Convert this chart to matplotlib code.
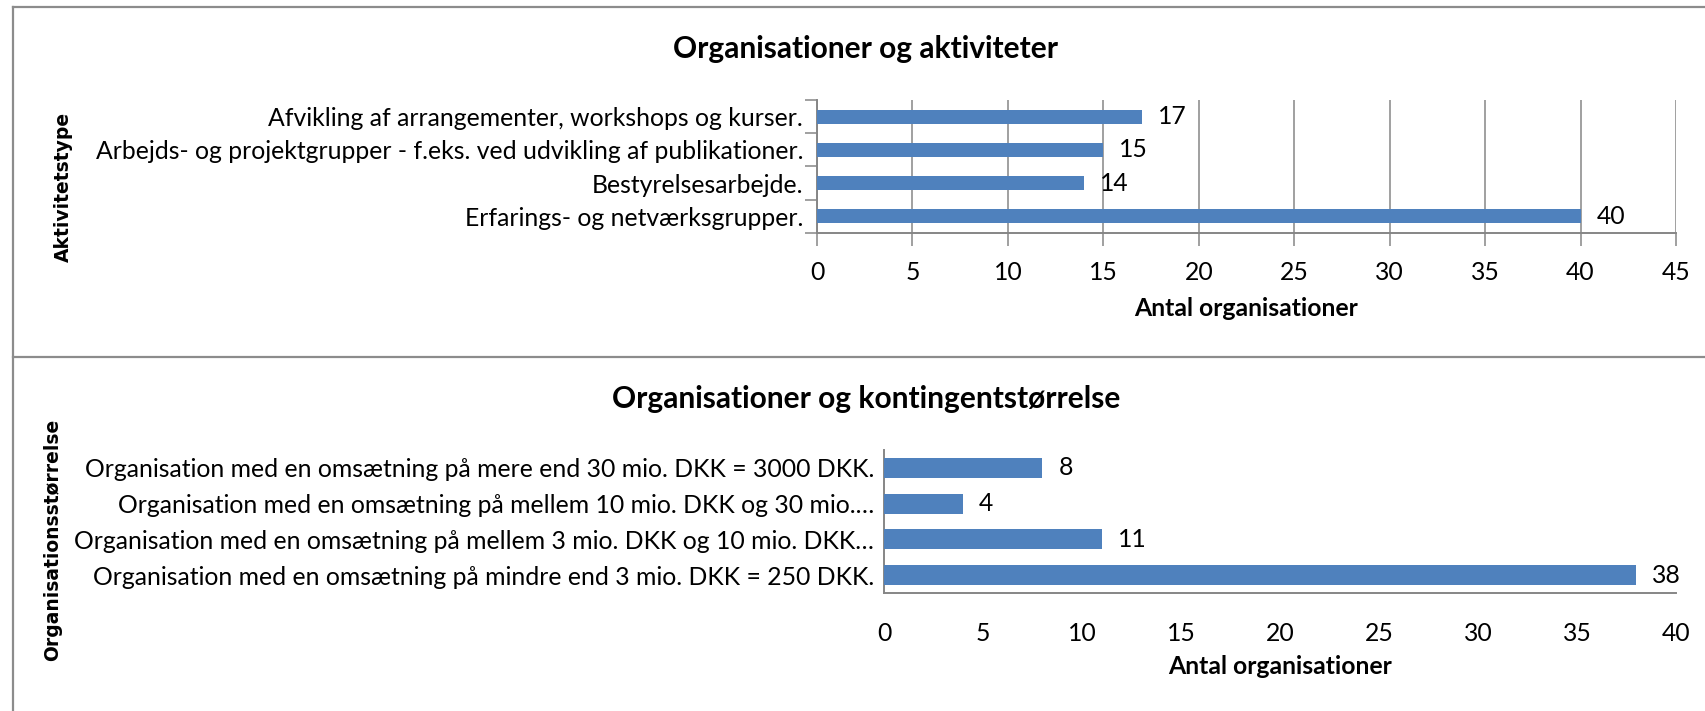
import matplotlib.pyplot as plt
from matplotlib.lines import Line2D
from matplotlib.ticker import FixedLocator
import numpy as np

# data (bottom category first like Excel)
aktiviteter = [
    "Erfarings- og netværksgrupper.",
    "Bestyrelsesarbejde.",
    "Arbejds- og projektgrupper - f.eks. ved udvikling af publikationer.",
    "Afvikling af arrangementer, workshops og kurser.",
]
aktivitet_antal = [40, 14, 15, 17]

stoerrelser = [
    "Organisation med en omsætning på mindre end 3 mio. DKK = 250 DKK.",
    "Organisation med en omsætning på mellem 3 mio. DKK og 10 mio. DKK…",
    "Organisation med en omsætning på mellem 10 mio. DKK og 30 mio.…",
    "Organisation med en omsætning på mere end 30 mio. DKK = 3000 DKK.",
]
stoerrelse_antal = [38, 11, 4, 8]

top_ticks = list(range(0, 50, 5))
bottom_ticks = list(range(0, 45, 5))

W, H = 1706, 711
BLUE = '#4F81BD'
GREY = '#868686'
FS = 17.8

plt.rcParams['font.family'] = ['Lato', 'DejaVu Sans']

fig = plt.figure(figsize=(W / 100, H / 100), dpi=100)


def px_axes(left, top, right, bottom):
    return fig.add_axes([left / W, 1 - bottom / H, (right - left) / W, (bottom - top) / H])


def fx(x):
    return x / W


def fy(y):
    return 1 - y / H


# panel borders
for xs, ys in [((13, 13), (7, 711)), ((13, W), (7, 7)), ((13, W), (357, 357))]:
    fig.add_artist(Line2D([fx(v) for v in xs], [fy(v) for v in ys], color='#8C8C8C', lw=1.6))


def draw_bars(ax, labels, values, ticks, bar_h):
    y = np.arange(len(labels))
    ax.barh(y, values, height=bar_h, color=BLUE, zorder=3)
    ax.set_xlim(ticks[0], ticks[-1])
    ax.set_ylim(-0.5, len(labels) - 0.5)
    ax.set_xticks(ticks)
    ax.set_yticks(y)
    ax.set_yticklabels(labels, fontsize=FS)
    for yy, v in zip(y, values):
        ax.annotate(str(v), (v, yy), xytext=(16, 0), textcoords='offset pixels',
                    va='center', ha='left', fontsize=FS)
    for s in ['top', 'right']:
        ax.spines[s].set_visible(False)
    for s in ['left', 'bottom']:
        ax.spines[s].set_color(GREY)
        ax.spines[s].set_linewidth(1.4)
    ax.tick_params(axis='x', labelsize=FS, colors=GREY, labelcolor='black')


# top chart
ax1 = px_axes(817, 100, 1676, 233)
draw_bars(ax1, aktiviteter, aktivitet_antal, top_ticks, 0.42)
ax1.grid(axis='x', color=GREY, lw=1.1, zorder=0)
ax1.tick_params(axis='x', length=9, width=1.1, pad=11)
ax1.tick_params(axis='y', which='major', length=0, pad=10)
ax1.yaxis.set_minor_locator(FixedLocator(np.arange(-0.5, len(aktiviteter), 1.0)))
ax1.tick_params(axis='y', which='minor', length=9, width=1.1, colors=GREY)

fig.text(fx(866), fy(49), "Organisationer og aktiviteter", ha='center', va='center',
         fontsize=21.5, fontweight='bold')
fig.text(fx(1246), fy(308), "Antal organisationer", ha='center', va='center',
         fontsize=FS, fontweight='bold')
fig.text(fx(63), fy(187), "Aktivitetstype", ha='center', va='center', rotation=90,
         fontsize=13.5, fontweight='bold', family='DejaVu Sans')

# bottom chart
ax2 = px_axes(884, 450, 1676, 593)
draw_bars(ax2, stoerrelser, stoerrelse_antal, bottom_ticks, 0.56)
ax2.tick_params(axis='x', length=0, pad=21)
ax2.tick_params(axis='y', length=0, pad=7)

fig.text(fx(866), fy(399), "Organisationer og kontingentstørrelse", ha='center', va='center',
         fontsize=21.5, fontweight='bold')
fig.text(fx(1280), fy(667), "Antal organisationer", ha='center', va='center',
         fontsize=FS, fontweight='bold')
fig.text(fx(53), fy(540), "Organisationsstørrelse", ha='center', va='center', rotation=90,
         fontsize=13.5, fontweight='bold', family='DejaVu Sans')

fig.savefig('out.png', dpi=100)
